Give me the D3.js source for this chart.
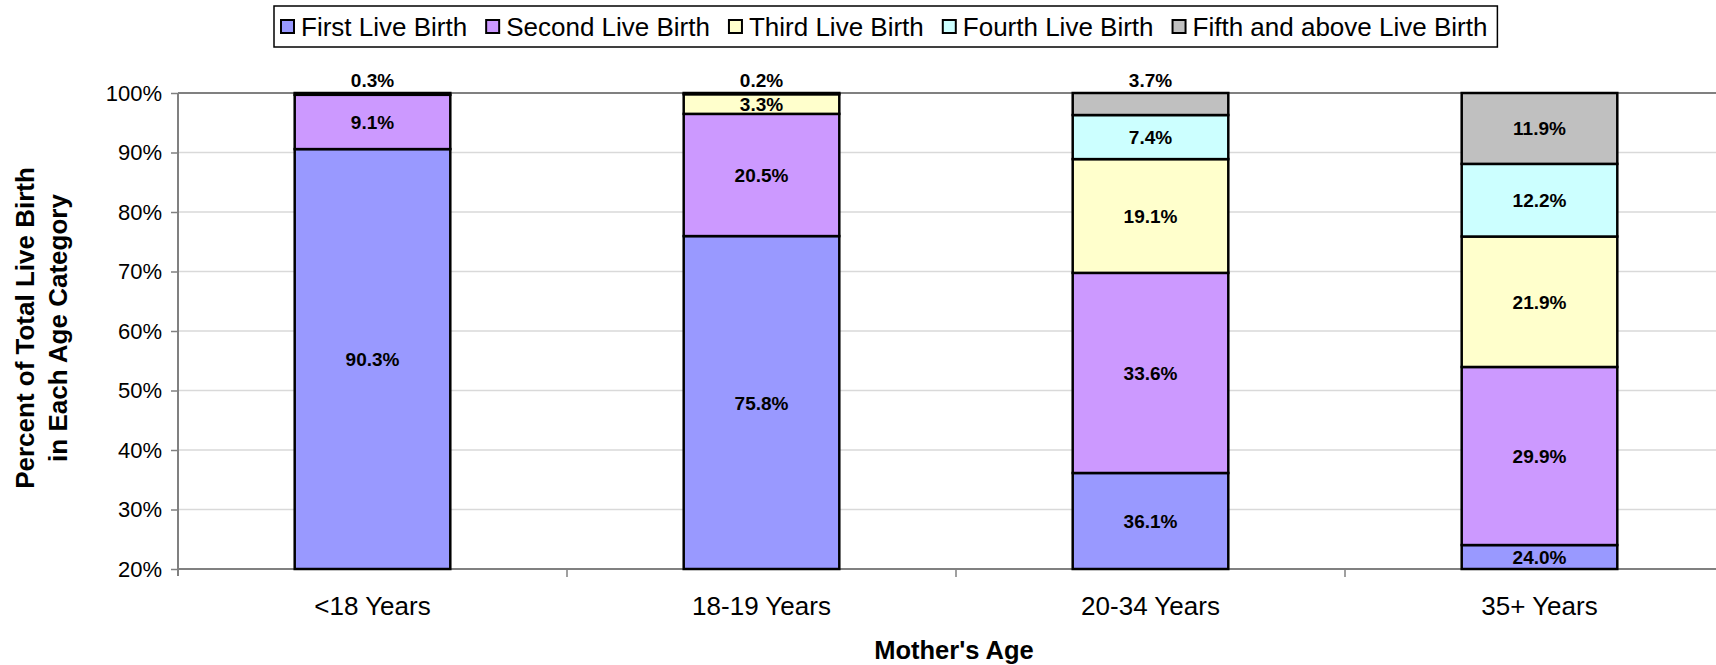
<!DOCTYPE html>
<html>
<head>
<meta charset="utf-8">
<script src="https://cdn.jsdelivr.net/npm/d3@7"></script>
<style>
  body { margin: 0; background: #fff; }
  svg { display: block; font-family: "Liberation Sans", Arial, sans-serif; }
</style>
</head>
<body>
<svg id="chart"></svg>
<script>
// categories and series (percent of live births)
const categories = ["<18 Years", "18-19 Years", "20-34 Years", "35+ Years"];
const seriesNames = ["First Live Birth", "Second Live Birth", "Third Live Birth", "Fourth Live Birth", "Fifth and above Live Birth"];
const firstBirth  = [90.3, 75.8, 36.1, 24.0];
const secondBirth = [9.1, 20.5, 33.6, 29.9];
const thirdBirth  = [0.3, 3.3, 19.1, 21.9];
const fourthBirth = [0.0, 0.2, 7.4, 12.2];
const fifthBirth  = [0.0, 0.0, 3.7, 11.9];
const seriesColors = ["#9999ff", "#cc99ff", "#ffffcc", "#ccffff", "#c0c0c0"];
const yTicks = [0.2, 0.3, 0.4, 0.5, 0.6, 0.7, 0.8, 0.9, 1.0];

const width = 1716, height = 665;
const margin = { top: 93, left: 178, bottom: 96 };
const plotW = 1556; // plot runs past the right edge, like the original
const plotH = height - margin.top - margin.bottom;

const svg = d3.select("#chart").attr("width", width).attr("height", height);

// build rows for the stack
const allSeries = [firstBirth, secondBirth, thirdBirth, fourthBirth, fifthBirth];
const rows = categories.map((c, i) => {
    const r = { cat: c };
    seriesNames.forEach((s, j) => r[s] = allSeries[j][i]);
    return r;
});
const stacked = d3.stack().keys(seriesNames).offset(d3.stackOffsetExpand)(rows);

const x = d3.scaleBand().domain(categories)
    .range([margin.left, margin.left + plotW])
    .paddingInner(0.6).paddingOuter(0.3);
const y = d3.scaleLinear().domain([0.2, 1]).range([margin.top + plotH, margin.top]).clamp(true);

// gridlines
svg.append("g").selectAll("line")
    .data(yTicks.slice(1))
    .enter().append("line")
    .attr("x1", margin.left).attr("x2", margin.left + plotW)
    .attr("y1", d => y(d)).attr("y2", d => y(d))
    .attr("stroke", d => d === 1 ? "#808080" : "#d9d9d9")
    .attr("stroke-width", d => d === 1 ? 2 : 1.5);

// y axis
const yAxis = svg.append("g")
    .attr("transform", `translate(${margin.left},0)`)
    .call(d3.axisLeft(y).tickValues(yTicks).tickFormat(d3.format(".0%")).tickSize(7).tickPadding(9));
yAxis.select(".domain").attr("stroke", "#808080").attr("stroke-width", 2)
    .attr("d", `M0,${margin.top}V${margin.top + plotH + 7}`);
yAxis.selectAll(".tick line").attr("stroke", "#808080").attr("stroke-width", 1.5);
yAxis.selectAll(".tick text").attr("font-size", 22).attr("fill", "#000")
    .attr("font-family", "Liberation Sans, Arial, sans-serif");

// x axis
const xAxis = svg.append("g").attr("transform", `translate(0,${margin.top + plotH})`);
xAxis.append("line")
    .attr("x1", margin.left).attr("x2", margin.left + plotW)
    .attr("stroke", "#808080").attr("stroke-width", 2);
xAxis.selectAll(".sep")
    .data(categories.slice(1))
    .enter().append("line")
    .attr("class", "sep")
    .attr("x1", d => x(d) - x.bandwidth() * 0.75).attr("x2", d => x(d) - x.bandwidth() * 0.75)
    .attr("y1", 0).attr("y2", 8)
    .attr("stroke", "#808080").attr("stroke-width", 1.5);
xAxis.selectAll(".cat")
    .data(categories)
    .enter().append("text")
    .attr("x", d => x(d) + x.bandwidth() / 2)
    .attr("y", 46)
    .attr("text-anchor", "middle")
    .attr("font-size", 26)
    .text(d => d);

// bars
const layers = svg.append("g").selectAll("g")
    .data(stacked)
    .enter().append("g")
    .attr("fill", (d, i) => seriesColors[i]);

layers.selectAll("rect")
    .data(d => d.filter(p => p.data[d.key] > 0))
    .enter().append("rect")
    .attr("x", d => x(d.data.cat))
    .attr("width", x.bandwidth())
    .attr("y", d => y(d[1]))
    .attr("height", d => y(d[0]) - y(d[1]))
    .attr("stroke", "#000")
    .attr("stroke-width", 2.5);

// data labels
const labels = [];
stacked.forEach((layer, j) => {
    layer.forEach((p, i) => {
        const v = p.data[layer.key];
        if (v <= 0) return;
        // top visible segment that is thin gets its label above the bar
        const isTop = stacked.slice(j + 1).every(l => l[i].data[l.key] <= 0);
        const above = isTop && v < 5;
        labels.push({
            cat: p.data.cat,
            text: v.toFixed(1) + "%",
            yPos: above ? margin.top - 6 : (y(p[0]) + y(p[1])) / 2 + 7
        });
    });
});
svg.append("g").selectAll("text")
    .data(labels)
    .enter().append("text")
    .attr("x", d => x(d.cat) + x.bandwidth() / 2)
    .attr("y", d => d.yPos)
    .attr("text-anchor", "middle")
    .attr("font-size", 19)
    .attr("font-weight", "bold")
    .text(d => d.text);

// axis titles
svg.append("text")
    .attr("x", margin.left + plotW / 2 - 2)
    .attr("y", 659)
    .attr("text-anchor", "middle")
    .attr("font-size", 25.5)
    .attr("font-weight", "bold")
    .text("Mother's Age");

const yTitle = svg.append("text")
    .attr("transform", "translate(34,328) rotate(-90)")
    .attr("text-anchor", "middle")
    .attr("font-size", 26)
    .attr("font-weight", "bold");
yTitle.append("tspan").attr("x", 0).attr("y", 0).text("Percent of Total Live Birth");
yTitle.append("tspan").attr("x", 0).attr("y", 33).text("in Each Age Category");

// legend
const legend = svg.append("g");
let lx = 281;
const ly = 27;
seriesNames.forEach((name, i) => {
    legend.append("rect")
        .attr("x", lx).attr("y", ly - 7)
        .attr("width", 13).attr("height", 13)
        .attr("fill", seriesColors[i])
        .attr("stroke", "#000").attr("stroke-width", 2);
    const t = legend.append("text")
        .attr("x", lx + 20).attr("y", ly + 9)
        .attr("font-size", 26)
        .text(name);
    lx += 20 + t.node().getComputedTextLength() + 19;
});
legend.insert("rect", ":first-child")
    .attr("x", 274).attr("y", 6)
    .attr("width", lx - 274 - 9).attr("height", 41)
    .attr("fill", "#fff")
    .attr("stroke", "#000").attr("stroke-width", 1.5);
</script>
</body>
</html>
